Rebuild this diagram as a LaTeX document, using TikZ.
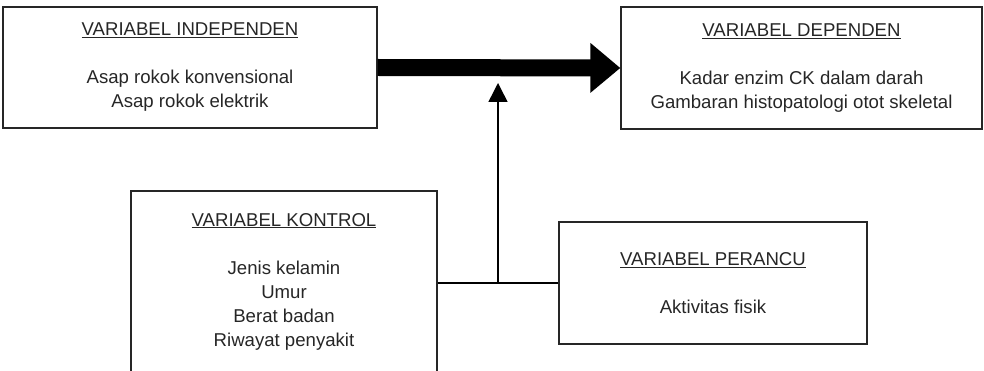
\documentclass[tikz,border=0pt]{standalone}
\usepackage{fontspec}
\setmainfont{Liberation Sans}
\usetikzlibrary{arrows.meta,calc}

\begin{document}
\begin{tikzpicture}[x=1pt, y=-1pt,
        varbox/.style={rectangle, draw=black!85, line width=1.3pt, inner sep=0pt, align=center, text=black!85, font=\fontsize{18.6}{24}\selectfont}]
    \useasboundingbox (0, 0) rectangle (984, 371);
    \node [varbox, minimum width=374, minimum height=121] at (190, 67.5) (indep) {\underline{VARIABEL INDEPENDEN}\\[24pt] Asap rokok konvensional\\ Asap rokok elektrik};
    \node [varbox, minimum width=361, minimum height=122] at (801.5, 68) (dep) {\underline{VARIABEL DEPENDEN}\\[24pt] Kadar enzim CK dalam darah\\ Gambaran histopatologi otot skeletal};
    \node [varbox, minimum width=306, minimum height=181] at (284, 281.5) (kontrol) {\underline{VARIABEL KONTROL}\\[24pt] Jenis kelamin\\ Umur\\ Berat badan\\ Riwayat penyakit};
    \node [varbox, minimum width=308, minimum height=122] at (713, 283) (perancu) {\underline{VARIABEL PERANCU}\\[24pt] Aktivitas fisik};
    \coordinate (junc) at ($(kontrol.east |- perancu.west)!0.5!(perancu.west)$);
    \coordinate (meet) at ($(junc |- indep.east) + (0, 15.5)$);
    \draw [line width=17pt, -{Triangle[length=30pt, width=48pt]}] (indep.east) -- (dep.west);
    \draw [line width=1.5pt] (kontrol.east |- perancu.west) -- (perancu.west);
    \draw [line width=1.5pt, -{Triangle[length=19pt, width=19pt]}] (junc) -- (meet);
\end{tikzpicture}
\end{document}
